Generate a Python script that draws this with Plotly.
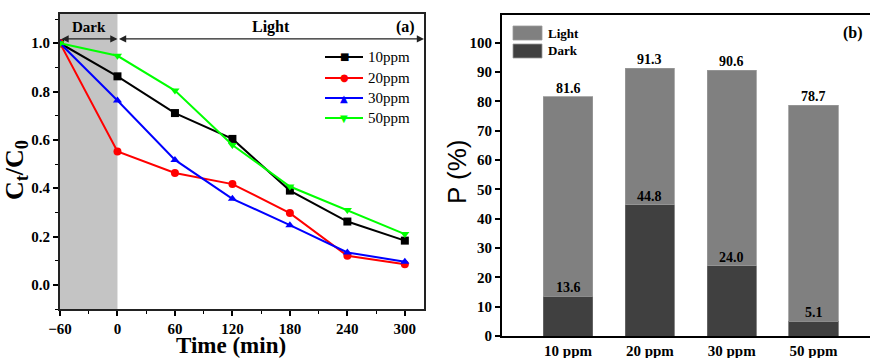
import plotly.graph_objects as go

# ---- data (panel a) ----
time_min = [-60, 0, 60, 120, 180, 240, 300]
c10 = [1.0, 0.863, 0.711, 0.604, 0.39, 0.262, 0.183]
c20 = [1.0, 0.552, 0.463, 0.417, 0.297, 0.12, 0.085]
c30 = [1.0, 0.763, 0.517, 0.356, 0.247, 0.134, 0.096]
c50 = [1.0, 0.948, 0.804, 0.579, 0.407, 0.31, 0.21]
series_names = ["10ppm", "20ppm", "30ppm", "50ppm"]

# ---- data (panel b) ----
conc_labels = ["10 ppm", "20 ppm", "30 ppm", "50 ppm"]
dark_pct = [13.6, 44.8, 24.0, 5.1]
total_pct = [81.6, 91.3, 90.6, 78.7]
light_pct = [t - d for t, d in zip(total_pct, dark_pct)]

SERIF = "Liberation Serif, Times New Roman, serif"
W, H = 870, 358

def px(xp):
    return xp / W

def py(yp):
    return 1 - yp / H

fig = go.Figure()

colors = ["#000000", "#ff0000", "#0000ff", "#00ff00"]
symbols = ["square", "circle", "triangle-up", "triangle-down"]
glyphs = ["\u25A0", "\u25CF", "\u25B2", "\u25BC"]
for name, ys, col, sym in zip(series_names, [c10, c20, c30, c50], colors, symbols):
    fig.add_trace(go.Scatter(
        x=time_min, y=ys, name=name, mode="lines+markers",
        line=dict(color=col, width=2),
        marker=dict(symbol=sym, size=8, color=col),
        xaxis="x", yaxis="y", showlegend=False,
    ))

fig.add_trace(go.Bar(
    x=conc_labels, y=dark_pct, name="Dark", marker=dict(color="#404040", line=dict(color="#6a6a6a", width=0.8)),
    width=0.6, xaxis="x2", yaxis="y2", showlegend=False,
))
fig.add_trace(go.Bar(
    x=conc_labels, y=light_pct, name="Light", marker=dict(color="#808080", line=dict(color="#999999", width=0.8)),
    width=0.6, xaxis="x2", yaxis="y2", showlegend=False,
))

tickfont = dict(family=SERIF, size=15, color="black", weight="bold")

fig.update_layout(
    template="none",
    width=W, height=H,
    margin=dict(l=0, r=0, t=0, b=0, autoexpand=False),
    paper_bgcolor="white", plot_bgcolor="white",
    barmode="stack",
    showlegend=False,
    xaxis=dict(
        domain=[px(60), px(424)], range=[-60, 320], anchor="y", automargin=False,
        tickvals=[-60, 0, 60, 120, 180, 240, 300],
        ticks="outside", ticklen=5, tickwidth=1.5, tickcolor="black",
        minor=dict(tickvals=[-30, 30, 90, 150, 210, 270], ticks="outside", ticklen=3, tickcolor="black", tickwidth=1),
        showline=True, linecolor="#222", linewidth=2, mirror=True,
        showgrid=False, zeroline=False, tickfont=tickfont,
    ),
    yaxis=dict(
        domain=[py(309), py(14)], range=[-0.1, 1.121], anchor="x", automargin=False,
        tickvals=[0, 0.2, 0.4, 0.6, 0.8, 1.0], tickformat=".1f",
        ticks="outside", ticklen=5, tickwidth=1.5, tickcolor="black",
        minor=dict(tickvals=[-0.1, 0.1, 0.3, 0.5, 0.7, 0.9, 1.1], ticks="outside", ticklen=3, tickcolor="black", tickwidth=1),
        showline=True, linecolor="#222", linewidth=2, mirror=True,
        showgrid=False, zeroline=False, tickfont=tickfont,
    ),
    xaxis2=dict(
        domain=[px(502), 1.0], range=[-0.807, 3.69], anchor="y2", automargin=False,
        ticks="", showline=True, linecolor="black", linewidth=2, mirror=True,
        showgrid=False, zeroline=False,
        tickfont=dict(family=SERIF, size=15, color="black", weight="bold"),
    ),
    yaxis2=dict(
        domain=[py(336), py(15)], range=[0, 109.4], anchor="x2", automargin=False,
        tickvals=list(range(0, 101, 10)),
        ticks="outside", ticklen=5, tickwidth=1.5, tickcolor="black",
        showline=True, linecolor="black", linewidth=2, mirror=False,
        showgrid=False, zeroline=False, tickfont=tickfont,
    ),
)

# Dark shading
fig.add_shape(type="rect", xref="x", yref="y domain", x0=-60, x1=0, y0=0, y1=1,
              fillcolor="#c4c4c4", line=dict(width=0), layer="below")

ann = []

def text_ann(x, y, text, font, xref="paper", yref="paper", xanchor="center", yanchor="middle", **kw):
    d = dict(x=x, y=y, xref=xref, yref=yref, text=text, showarrow=False, font=font,
             xanchor=xanchor, yanchor=yanchor)
    d.update(kw)
    ann.append(d)

# arrows
arrow_y = (285 - 39) / 241.7
for x0, x1 in [(-60, 0), (0, 320)]:
    ann.append(dict(x=x1, y=arrow_y, ax=x0, ay=arrow_y, xref="x", yref="y", axref="x", ayref="y",
                    showarrow=True, arrowhead=2, arrowside="end+start", arrowsize=1.2, arrowwidth=1.2,
                    arrowcolor="#222", text=""))
bold = lambda s, fam=SERIF: dict(family=fam, size=s, color="black", weight="bold")
text_ann(-30, py(27), "Dark", bold(15), xref="x")
text_ann(160, py(27), "Light", bold(16), xref="x")
text_ann(px(405), py(27), "(a)", bold(16))
# axis titles panel a
text_ann(px(16), py(170), "C<sub>t</sub>/C<sub>0</sub>", bold(26), textangle=-90)
text_ann(px(231), py(345), "Time (min)", bold(23))
# panel b title
text_ann(px(457), py(172), "P (%)", dict(family="Liberation Sans, Arial, sans-serif", size=26, color="black"),
         textangle=-90)
text_ann(px(853), py(33), "(b)", bold(16))
# bar labels
for c, d, t in zip(conc_labels, dark_pct, total_pct):
    text_ann(c, t, f"{t:.1f}", bold(14), xref="x2", yref="y2", yanchor="bottom", yshift=-1)
    text_ann(c, d, f"{d:.1f}", bold(14), xref="x2", yref="y2", yanchor="bottom", yshift=-1)

# panel a legend (manual)
leg_rows = [57, 78, 98, 118]
for name, col, g, yr in zip(series_names, colors, glyphs, leg_rows):
    fig.add_shape(type="line", xref="paper", yref="paper", x0=px(325), x1=px(363), y0=py(yr), y1=py(yr),
                  line=dict(color=col, width=2))
    text_ann(px(344), py(yr), g, dict(family="DejaVu Sans", size=10, color=col))
    text_ann(px(366), py(yr), name, dict(family=SERIF, size=15, color="black"), xanchor="left")

# panel b legend
for label, col, yc in [("Light", "#808080", 33), ("Dark", "#404040", 51)]:
    fig.add_shape(type="rect", xref="paper", yref="paper", x0=px(513), x1=px(542), y0=py(yc + 7), y1=py(yc - 7),
                  fillcolor=col, line=dict(color="#999999", width=0.8))
    text_ann(px(546), py(yc), label, bold(13), xanchor="left")

fig.update_layout(annotations=ann)
fig.write_html("out.html")
